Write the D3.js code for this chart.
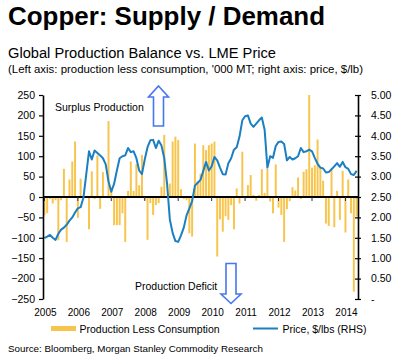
<!DOCTYPE html>
<html><head><meta charset="utf-8">
<script src="https://cdn.jsdelivr.net/npm/d3@7"></script>
<style>
body{margin:0;background:#fff}
svg{display:block}
text{font-family:"Liberation Sans",Arial,Helvetica,sans-serif;fill:#000}
</style>
</head><body>
<svg id="c" width="400" height="359"></svg>
<script>
// ---------- data ----------
const yearLabels = ["2005","2006","2007","2008","2009","2010","2011","2012","2013","2014"];
const monthCodes = ["01","02","03","04","05","06","07","08","09","10","11","12"];
// production less consumption, '000 MT (monthly, Jan 2005 - May 2014)
const balance = [
 -45,-40,-5,-16,-8,-106,-8,69,-110,43,87,136,
 -51,45,0,0,-79,63,-5,102,-29,61,0,186,
 15,-69,-69,-69,-40,-110,15,87,15,81,29,103,
 -7,-105,-15,-44,-20,-15,25,152,0,33,136,148,
 140,19,-5,-8,-89,-97,131,38,57,127,115,127,
 131,136,-146,-55,-85,-47,-56,-20,-79,21,-16,111,
 0,29,54,5,-9,5,68,10,69,-11,-40,80,
 -26,-44,-110,-30,-10,24,16,48,-5,62,68,250,
 72,78,141,72,40,-65,-71,66,-74,15,-56,64,
 -87,43,-40,-232,-48
];
// LME copper price, $/lb
const price = [
 1.49,1.53,1.57,1.50,1.45,1.60,1.70,1.75,1.82,1.92,2.00,2.12,
 2.22,2.25,2.48,3.05,3.62,3.42,3.64,3.58,3.52,3.45,3.30,2.88,
 2.63,2.82,3.15,3.45,3.50,3.52,3.70,3.60,3.62,3.45,3.15,3.06,
 3.42,3.72,3.89,3.90,3.70,3.88,3.76,3.45,2.83,1.95,1.62,1.42,
 1.40,1.56,1.75,2.05,2.22,2.40,2.78,2.85,2.92,3.14,3.36,3.15,
 3.25,3.48,3.40,3.22,3.06,3.05,3.33,3.45,3.66,3.72,3.98,4.38,
 4.48,4.50,4.30,4.22,4.30,4.38,4.45,4.15,3.22,3.50,3.46,3.75,
 3.85,3.86,3.80,3.40,3.48,3.42,3.45,3.50,3.70,3.60,3.62,3.66,
 3.62,3.46,3.31,3.22,3.20,3.10,3.11,3.18,3.25,3.33,3.24,3.36,
 3.23,3.19,3.06,3.04,3.14
];
const leftTicks = [250,200,150,100,50,0,-50,-100,-150,-200,-250];
const rightTicks = [5,4.5,4,3.5,3,2.5,2,1.5,1,0.5,0];
const rightTickLabels = ["5.00","4.50","4.00","3.50","3.00","2.50","2.00","1.50","1.00","0.50","-"];

const months = [];
yearLabels.forEach(y => monthCodes.forEach(m => months.push(y + "-" + m)));
months.length = balance.length;
const janMonths = yearLabels.map(y => y + "-01");

// ---------- layout ----------
const svg = d3.select("#c");
const X0 = 43, X1 = 358, YT = 95, YB = 299;
const barColor = "#F7C44C", lineColor = "#1B7FC2", arrowColor = "#4676F0";

const x = d3.scaleBand().domain(months).range([X0, X1]).paddingInner(0.3).paddingOuter(0.15);
const yL = d3.scaleLinear().domain([-250, 250]).range([YB, YT]);
const yR = d3.scaleLinear().domain([0, 5]).range([YB, YT]);

// titles
svg.append("text").attr("x", 8).attr("y", 25).attr("font-size", 26).attr("font-weight", "bold")
  .attr("textLength", 317).attr("lengthAdjust", "spacingAndGlyphs").text("Copper: Supply / Demand");
svg.append("text").attr("x", 8).attr("y", 57.5).attr("font-size", 14.7)
  .attr("textLength", 268).attr("lengthAdjust", "spacingAndGlyphs").text("Global Production Balance vs. LME Price");
svg.append("text").attr("x", 8).attr("y", 73).attr("font-size", 11.3)
  .attr("textLength", 355).attr("lengthAdjust", "spacingAndGlyphs")
  .text("(Left axis: production less consumption, '000 MT; right axis: price, $/lb)");

// bars
svg.append("g").selectAll("rect").data(balance).join("rect")
  .attr("x", (d, i) => x(months[i]))
  .attr("width", x.bandwidth())
  .attr("y", d => yL(Math.max(0, d)))
  .attr("height", d => Math.abs(yL(d) - yL(0)))
  .attr("fill", barColor);

// zero line + month ticks
svg.append("line").attr("x1", X0).attr("x2", X1).attr("y1", yL(0)).attr("y2", yL(0))
  .attr("stroke", "#000").attr("stroke-width", 2.2);
const zeroAxis = svg.append("g").attr("transform", `translate(0,${yL(0)})`)
  .call(d3.axisBottom(x).tickValues(janMonths).tickSize(4).tickFormat(""));
zeroAxis.select(".domain").remove();
zeroAxis.selectAll("line").attr("stroke", "#333").attr("stroke-width", 1);

// price line
const line = d3.line()
  .x((d, i) => x(months[i]) + x.bandwidth() / 2)
  .y(d => yR(d));
svg.append("path").datum(price).attr("d", line)
  .attr("fill", "none").attr("stroke", lineColor).attr("stroke-width", 2).attr("stroke-linejoin", "round");

// left axis
const la = svg.append("g").attr("transform", `translate(${X0},0)`)
  .call(d3.axisLeft(yL).tickValues(leftTicks).tickSize(4).tickSizeOuter(0).tickPadding(4));
la.select(".domain").attr("stroke", "#000").attr("stroke-width", 1.6);
la.selectAll(".tick line").attr("stroke", "#000").attr("stroke-width", 1.2);
la.selectAll("text").attr("font-size", 10.5).attr("font-family", "Liberation Sans, Arial, sans-serif");

// right axis
const ra = svg.append("g").attr("transform", `translate(${X1},0)`)
  .call(d3.axisRight(yR).tickValues(rightTicks).tickFormat((d, i) => rightTickLabels[i])
    .tickSize(3).tickSizeOuter(0).tickPadding(10));
ra.select(".domain").attr("stroke", "#000").attr("stroke-width", 1.6);
ra.selectAll(".tick line").attr("x1", -3).attr("stroke", "#000").attr("stroke-width", 1.2);
ra.selectAll("text").attr("font-size", 10.5).attr("font-family", "Liberation Sans, Arial, sans-serif");

// year labels
const xa = svg.append("g").attr("transform", "translate(1,308.5)")
  .call(d3.axisBottom(x).tickValues(janMonths).tickSize(0).tickPadding(0).tickFormat(m => m.slice(0, 4)));
xa.select(".domain").remove();
xa.selectAll("text").attr("font-size", 10).attr("font-family", "Liberation Sans, Arial, sans-serif");

// annotations
svg.append("text").attr("x", 55).attr("y", 110.5).attr("font-size", 10.5).text("Surplus Production");
svg.append("text").attr("x", 135).attr("y", 290).attr("font-size", 10.5).text("Production Deficit");

// arrows
const upArrow = [[158.5,86],[168.5,97],[163.5,97],[163.5,126],[153.5,126],[153.5,97],[148.5,97]];
const downArrow = [[226,263.5],[236,263.5],[236,294],[241,294],[231,303.5],[221,294],[226,294]];
[upArrow, downArrow].forEach(pts => {
  svg.append("path").attr("d", d3.line()(pts) + "Z")
    .attr("fill", "#fff").attr("stroke", arrowColor).attr("stroke-width", 1.6).attr("stroke-linejoin", "miter");
});

// legend
svg.append("rect").attr("x", 51).attr("y", 326).attr("width", 25).attr("height", 5).attr("fill", barColor);
svg.append("text").attr("x", 79.5).attr("y", 333).attr("font-size", 10.5).text("Production Less Consumption");
svg.append("line").attr("x1", 253).attr("x2", 278).attr("y1", 328.5).attr("y2", 328.5)
  .attr("stroke", lineColor).attr("stroke-width", 2);
svg.append("text").attr("x", 282.5).attr("y", 333).attr("font-size", 10.5).text("Price, $/lbs (RHS)");

// source
svg.append("text").attr("x", 8).attr("y", 352).attr("font-size", 9.8)
  .text("Source: Bloomberg, Morgan Stanley Commodity Research");
</script>
</body></html>
